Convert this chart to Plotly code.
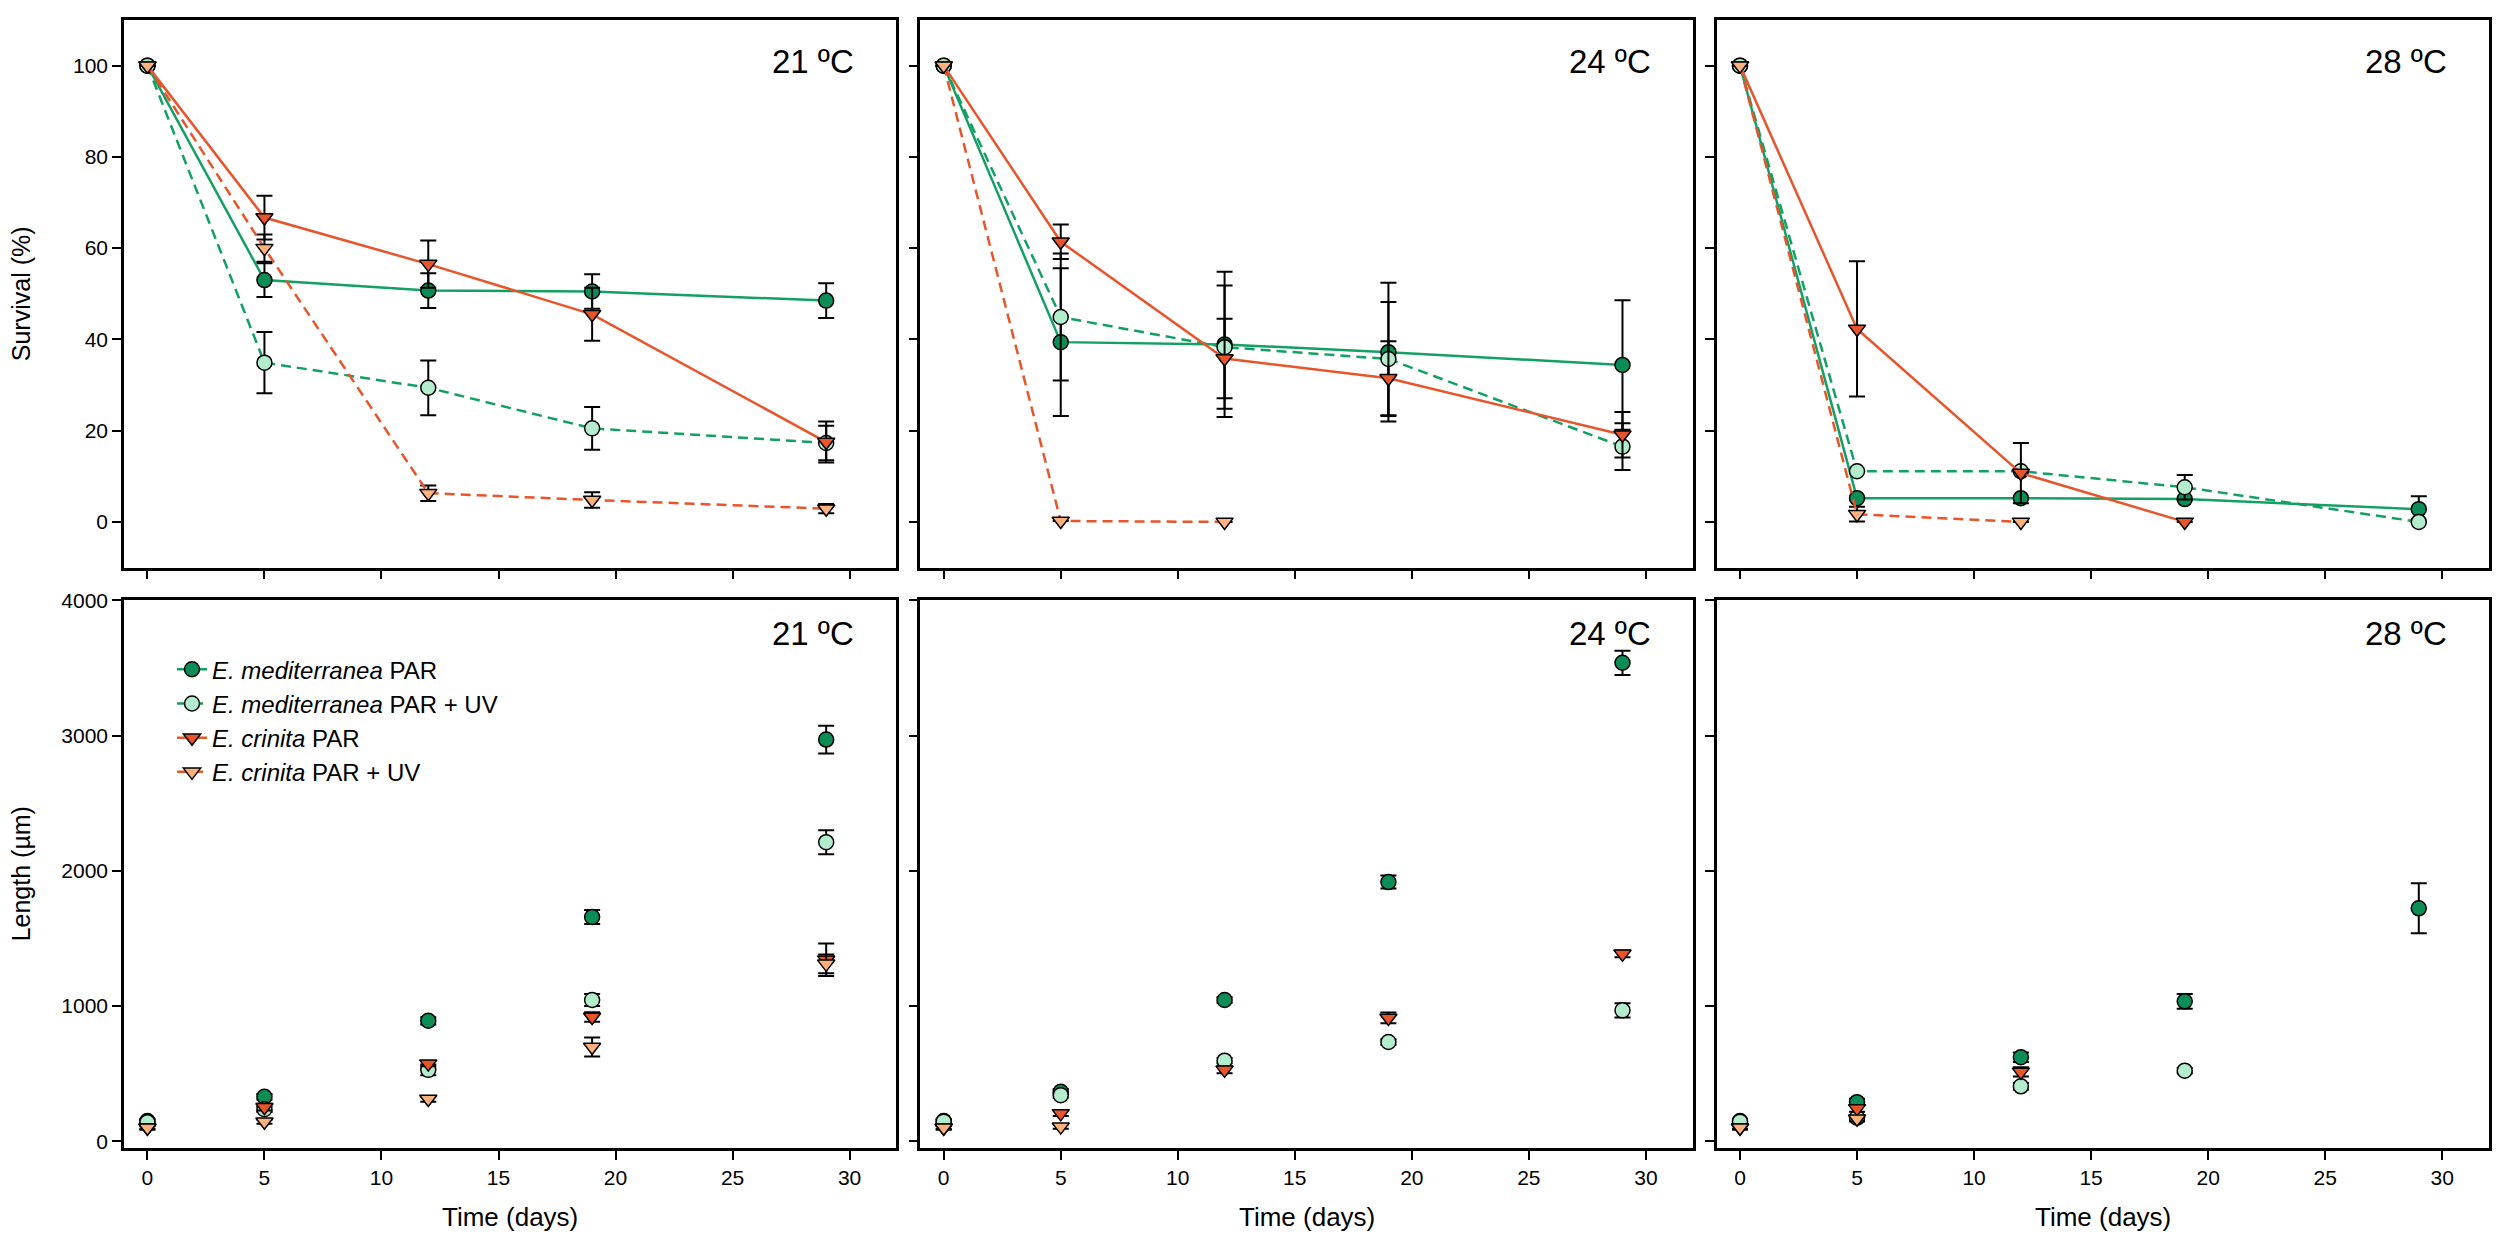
import plotly.graph_objects as go
from plotly.subplots import make_subplots

# sampling days and the three temperature panels
days = [0, 5, 12, 19, 29]
temps = ['21 ºC', '24 ºC', '28 ºC']

# survival (%), one list per temperature (21, 24, 28 ºC)
surv_med_par = [[100, 53.0, 50.7, 50.5, 48.5], [100, 39.4, 38.9, 37.2, 34.4], [100, 5.2, 5.2, 5.0, 2.8]]
surv_med_par_err = [[None, 3.7, 3.8, 3.8, 3.8], [None, 16.2, 15.9, 15.2, 14.2], [None, None, None, None, 2.8]]
surv_med_uv = [[100, 34.9, 29.4, 20.5, 17.3], [100, 44.9, 38.3, 35.7, 16.5], [100, 11.1, 11.1, 7.6, 0.0]]
surv_med_uv_err = [[None, 6.7, 6.0, 4.7, 3.8], [None, 13.9, 13.5, 12.5, 5.1], [None, None, None, 2.7, None]]
surv_crin_par = [[100, 66.7, 56.5, 45.5, 17.5], [100, 61.4, 35.8, 31.5, 19.1], [100, 42.3, 10.7, 0.0, None]]
surv_crin_par_err = [[None, 4.8, 5.2, 5.8, 4.5], [None, 3.8, 8.7, 8.1, 5.0], [None, 14.8, 6.6, None, None]]
surv_crin_uv = [[100, 60.0, 6.3, 4.8, 2.9], [100, 0.2, 0.0, None, None], [100, 1.7, 0.0, None, None]]
surv_crin_uv_err = [[None, 3.0, 1.7, 1.7, 1.0], [None, None, None, None, None], [None, 1.6, None, None, None]]

# length (um), one list per temperature (21, 24, 28 ºC)
len_med_par = [[150, 329, 891, 1659, 2971], [150, 366, 1045, 1917, 3539], [150, 289, 621, 1035, 1723]]
len_med_par_err = [[15, 20, 27, 52, 103], [15, 20, 20, 48, 90], [15, 25, 35, 55, 185]]
len_med_uv = [[140, 237, 528, 1045, 2212], [145, 341, 596, 734, 968], [145, 175, 406, 522, None]]
len_med_uv_err = [[15, 20, 40, 45, 89], [15, 20, 20, 20, 52], [15, 20, 25, 20, None]]
len_crin_par = [[100, 252, 574, 919, 1343], [100, 206, 528, 912, 1386], [100, 243, 513, None, None]]
len_crin_par_err = [[15, 25, 20, 35, 120], [15, 20, 25, 40, 25], [15, 25, 35, None, None]]
len_crin_uv = [[100, 144, 313, 697, 1312], [100, 108, None, None, None], [100, 166, None, None, None]]
len_crin_uv_err = [[10, 15, 20, 70, 70], [10, 15, None, None, None], [10, 20, None, None, None]]

GREEN = '#13a065'
GREEN_DARK = '#0c8c56'
GREEN_LIGHT = '#b4ecce'
ORANGE = '#e8552b'
ORANGE_LIGHT = '#fdb27e'

series = [
    dict(name='<i>E. mediterranea</i> PAR', surv=surv_med_par, surv_err=surv_med_par_err,
         length=len_med_par, length_err=len_med_par_err,
         line=GREEN, dash='solid', symbol='circle', fill=GREEN_DARK),
    dict(name='<i>E. mediterranea</i> PAR + UV', surv=surv_med_uv, surv_err=surv_med_uv_err,
         length=len_med_uv, length_err=len_med_uv_err,
         line=GREEN, dash='10px,6px', symbol='circle', fill=GREEN_LIGHT),
    dict(name='<i>E. crinita</i> PAR', surv=surv_crin_par, surv_err=surv_crin_par_err,
         length=len_crin_par, length_err=len_crin_par_err,
         line=ORANGE, dash='solid', symbol='triangle-down', fill=ORANGE),
    dict(name='<i>E. crinita</i> PAR + UV', surv=surv_crin_uv, surv_err=surv_crin_uv_err,
         length=len_crin_uv, length_err=len_crin_uv_err,
         line=ORANGE, dash='10px,6px', symbol='triangle-down', fill=ORANGE_LIGHT),
]

fig = make_subplots(rows=2, cols=3, horizontal_spacing=0.0101, vertical_spacing=0.0292)

for col in range(3):
    for s in series:
        err_style = dict(color='black', thickness=2, width=8)
        # survival panels: lines + markers
        fig.add_trace(go.Scatter(
            x=days, y=s['surv'][col],
            mode='lines+markers',
            name=s['name'],
            legendgroup=s['name'],
            showlegend=(col == 0),
            line=dict(color=s['line'], width=2.5, dash=s['dash']),
            marker=dict(symbol=s['symbol'], size=15, color=s['fill'],
                        line=dict(color='black', width=1.5)),
            error_y=dict(type='data', array=s['surv_err'][col], **err_style),
        ), row=1, col=col + 1)
        # length panels: markers only
        fig.add_trace(go.Scatter(
            x=days, y=s['length'][col],
            mode='markers',
            name=s['name'],
            legendgroup=s['name'],
            showlegend=False,
            marker=dict(symbol=s['symbol'], size=15, color=s['fill'],
                        line=dict(color='black', width=1.5)),
            error_y=dict(type='data', array=s['length_err'][col], **err_style),
        ), row=2, col=col + 1)

axis_style = dict(
    showline=True, linecolor='black', linewidth=2.5, mirror=True,
    ticks='outside', ticklen=9, tickwidth=2, tickcolor='black',
    showgrid=False, zeroline=False,
    tickfont=dict(size=21, color='black'),
)
fig.update_xaxes(range=[-1, 32], tickvals=[0, 5, 10, 15, 20, 25, 30], **axis_style)
fig.update_yaxes(**axis_style)
fig.update_xaxes(showticklabels=False, row=1)
fig.update_yaxes(range=[-10, 110], tickvals=[0, 20, 40, 60, 80, 100], row=1)
fig.update_yaxes(range=[-50, 4000], tickvals=[0, 1000, 2000, 3000, 4000], row=2)
fig.update_yaxes(showticklabels=False, col=2)
fig.update_yaxes(showticklabels=False, col=3)

# temperature labels in the top-right corner of every panel
for row in (1, 2):
    for col in range(3):
        fig.add_annotation(
            text=temps[col], xref='x domain', yref='y domain',
            x=0.948, y=0.925 if row == 1 else 0.94,
            xanchor='right', yanchor='middle', showarrow=False,
            font=dict(size=33, color='black'), row=row, col=col + 1)

# axis titles
fig.add_annotation(text='Survival (%)', xref='paper', yref='paper', x=-0.0435, y=0.757,
                   xanchor='center', yanchor='middle',
                   textangle=-90, showarrow=False, font=dict(size=25, color='black'))
fig.add_annotation(text='Length (µm)', xref='paper', yref='paper', x=-0.0435, y=0.2427,
                   xanchor='center', yanchor='middle',
                   textangle=-90, showarrow=False, font=dict(size=25, color='black'))
x_domains = [fig.layout.xaxis4.domain, fig.layout.xaxis5.domain, fig.layout.xaxis6.domain]
for dom in x_domains:
    fig.add_annotation(text='Time (days)', xref='paper', yref='paper',
                       x=(dom[0] + dom[1]) / 2, y=-0.0614,
                       xanchor='center', yanchor='middle', showarrow=False,
                       font=dict(size=26, color='black'))

# page body keeps its default 8px margin, so the figure is 16px smaller
fig.update_layout(
    width=2484,
    height=1226,
    margin=dict(l=116, r=0, t=0, b=86),
    plot_bgcolor='white',
    paper_bgcolor='white',
    font=dict(family='Liberation Sans, Arial, sans-serif', color='black'),
    legend=dict(
        x=0.0203, y=0.444, xanchor='left', yanchor='top',
        font=dict(size=24), bgcolor='rgba(0,0,0,0)',
        tracegroupgap=0,
    ),
)

fig.write_html("out.html")
